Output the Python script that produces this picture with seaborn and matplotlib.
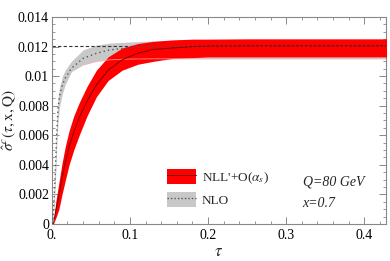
import numpy as np
import pandas as pd
import matplotlib
matplotlib.use("Agg")
import matplotlib.pyplot as plt
import seaborn as sns
from matplotlib.patches import Patch
from matplotlib.lines import Line2D
from matplotlib.ticker import MultipleLocator, FixedLocator, FixedFormatter

# NLL'+O(alpha_s) band (red)
tau_nll = [0.002, 0.005, 0.009, 0.013, 0.017, 0.022, 0.028, 0.035, 0.045, 0.057,
           0.072, 0.090, 0.110, 0.130, 0.155, 0.180, 0.200, 0.250, 0.300, 0.350, 0.430]
nll_c = [0.0, 0.0009, 0.00185, 0.0031, 0.0041, 0.0052, 0.0062, 0.0072, 0.0083, 0.0094,
         0.0104, 0.0111, 0.01155, 0.0118, 0.0119, 0.0120, 0.01203, 0.01205, 0.01205, 0.01205, 0.01205]
nll_hi = [0.0, 0.0015, 0.0028, 0.0041, 0.0052, 0.0063, 0.0073, 0.0082, 0.0093, 0.0104,
          0.0113, 0.0119, 0.0122, 0.01235, 0.01245, 0.0125, 0.0125, 0.01252, 0.01252, 0.01252, 0.01252]
nll_lo = [0.0, 0.0004, 0.0010, 0.0020, 0.0029, 0.0040, 0.0050, 0.0060, 0.0073, 0.0086,
          0.0097, 0.0104, 0.0108, 0.0110, 0.0112, 0.01125, 0.0113, 0.0113, 0.0113, 0.0113, 0.0113]

# NLO band (gray)
tau_nlo = [0.001, 0.003, 0.0047, 0.006, 0.008, 0.010, 0.0135, 0.017, 0.025, 0.040,
           0.057, 0.074, 0.096, 0.130, 0.170, 0.250, 0.430]
nlo_c = [0.0, 0.00185, 0.0039, 0.0059, 0.0079, 0.0087, 0.0094, 0.00985, 0.01053, 0.0112,
         0.01154, 0.01177, 0.0119, 0.0120, 0.01203, 0.01205, 0.01205]
nlo_hi = [0.0, 0.0025, 0.0048, 0.0068, 0.0086, 0.0093, 0.0100, 0.0104, 0.0110, 0.01177,
          0.0121, 0.01223, 0.0123, 0.01237, 0.0124, 0.0124, 0.0124]
nlo_lo = [0.0, 0.0012, 0.0031, 0.0050, 0.0070, 0.0080, 0.0088, 0.0094, 0.0103, 0.01076,
          0.0110, 0.0111, 0.01115, 0.01117, 0.01117, 0.01117, 0.01117]

asymptote = 0.01205

x_ticks = [0.0, 0.1, 0.2, 0.3, 0.4]
x_labels = ["0.", "0.1", "0.2", "0.3", "0.4"]
y_ticks = [0.0, 0.002, 0.004, 0.006, 0.008, 0.010, 0.012, 0.014]
y_labels = ["0", "0.002", "0.004", "0.006", "0.008", "0.01", "0.012", "0.014"]

sns.set_theme(style="ticks")
plt.rcParams["font.family"] = ["Liberation Serif", "DejaVu Serif"]
plt.rcParams["mathtext.fontset"] = "stix"

fig = plt.figure(figsize=(3.9, 2.61), dpi=100)
ax = fig.add_axes([0.133, 0.142, 0.857, 0.793])

df_nll = pd.DataFrame({"tau": tau_nll, "c": nll_c})
df_nlo = pd.DataFrame({"tau": tau_nlo, "c": nlo_c})

ax.fill_between(tau_nlo, nlo_lo, nlo_hi, color="#c8c8c8", lw=0, zorder=1)
ax.axhline(asymptote, color="#333333", lw=0.8, ls=(0, (3, 2)), zorder=2)
ax.fill_between(tau_nll, nll_lo, nll_hi, color="#ff0000", lw=0, zorder=3)
# faint NLO lower edge seen through the red band
ax.plot(tau_nlo[9:], nlo_lo[9:], color="#ffb0b0", lw=0.6, alpha=0.8, zorder=4)
sns.lineplot(data=df_nll, x="tau", y="c", ax=ax, color="#800000", lw=0.7,
             zorder=5, legend=False)
sns.lineplot(data=df_nlo, x="tau", y="c", ax=ax, color="#555555", lw=1.0,
             ls=(0, (1, 2.2)), zorder=6, legend=False)

ax.set_xlim(0, 0.428)
ax.set_ylim(0, 0.014)
ax.xaxis.set_major_locator(FixedLocator(x_ticks))
ax.xaxis.set_major_formatter(FixedFormatter(x_labels))
ax.yaxis.set_major_locator(FixedLocator(y_ticks))
ax.yaxis.set_major_formatter(FixedFormatter(y_labels))
ax.xaxis.set_minor_locator(MultipleLocator(0.02))
ax.yaxis.set_minor_locator(MultipleLocator(0.0005))
ax.tick_params(which="both", direction="in", top=True, right=True,
               colors="#888888", labelcolor="black", labelsize=10)
ax.tick_params(axis="y", pad=2)
ax.tick_params(axis="x", pad=4)
ax.tick_params(which="major", length=5, width=0.7)
ax.tick_params(which="minor", length=2.5, width=0.6)
for s in ax.spines.values():
    s.set_color("#888888")
    s.set_linewidth(0.8)

ax.set_xlabel(r"$\tau$", fontsize=12, labelpad=1)
ax.set_ylabel(r"$\hat{\sigma}^{c}(\tau,\mathrm{x,Q})$", fontsize=11, labelpad=0)

h_red = (Patch(facecolor="#ff0000", edgecolor="none"),
         Line2D([], [], color="#800000", lw=0.7))
h_gray = (Patch(facecolor="#c8c8c8", edgecolor="none"),
          Line2D([], [], color="#555555", lw=1.0, ls=(0, (1, 1.5))))
leg = ax.legend([h_red, h_gray], [r"NLL'+O($\alpha_s$)", "NLO"],
                loc="upper left", bbox_to_anchor=(0.33, 0.29), frameon=False,
                fontsize=9.5, handlelength=2.2, handleheight=1.3,
                handletextpad=0.4, labelspacing=0.5, borderaxespad=0)

ax.text(0.322, 0.00284, "Q=80 GeV", style="italic", fontsize=10, ha="left", va="center")
ax.text(0.3205, 0.00135, "x=0.7", style="italic", fontsize=10, ha="left", va="center")

fig.savefig("out.png", dpi=100)
